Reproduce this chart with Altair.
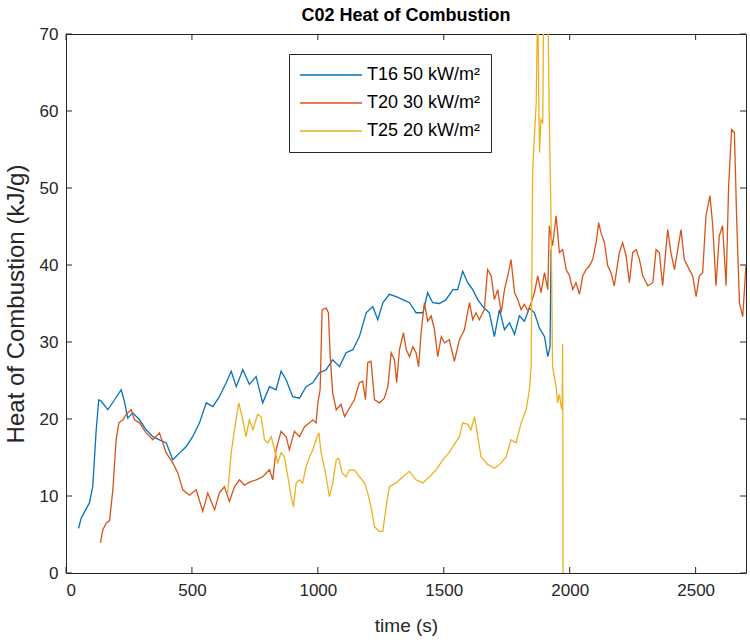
import altair as alt
import pandas as pd

# ---- data ----
t16_t = [50, 60, 93, 106, 120, 130, 140, 166, 193, 219, 232, 245, 265, 292, 318, 345, 371, 398, 424, 451,
         477, 503, 530, 557, 583, 609, 636, 656, 676, 702, 728, 755, 781, 808, 834, 854, 874, 900, 927, 953,
         980, 1006, 1033, 1059, 1086, 1112, 1139, 1165, 1192, 1218, 1238, 1258, 1284, 1311, 1337, 1364, 1390,
         1417, 1436, 1456, 1483, 1509, 1536, 1555, 1575, 1595, 1615, 1635, 1655, 1681, 1701, 1721, 1741, 1761,
         1781, 1800, 1820, 1840, 1860, 1880, 1900, 1913, 1922, 1926]
t16_v = [5.8, 7.1, 9.1, 11.2, 18.6, 22.5, 22.3, 21.2, 22.5, 23.8, 22.3, 20.1, 20.8, 19.9, 18.6, 17.7, 17.3, 16.9,
         14.7, 15.6, 16.4, 17.7, 19.5, 22.1, 21.6, 22.9, 24.7, 26.2, 24.2, 26.4, 24.5, 25.5, 22.1, 24.2, 23.8,
         26.2, 25.1, 22.9, 22.7, 24.2, 24.7, 26.0, 26.4, 27.7, 26.8, 28.6, 29.0, 30.7, 33.8, 34.6, 32.9, 35.1,
         36.2, 35.9, 35.5, 35.1, 33.8, 33.8, 36.4, 35.1, 35.0, 35.5, 36.8, 36.8, 39.2, 37.7, 36.8, 35.5, 34.6,
         33.8, 30.7, 34.2, 31.6, 32.5, 31.0, 33.4, 32.7, 34.4, 33.8, 31.8, 30.7, 28.1, 29.4, 42.0]

t20_t = [137, 146, 160, 173, 186, 199, 210, 226, 239, 259, 272, 292, 318, 345, 371, 398, 424, 444, 464, 490,
         517, 543, 563, 590, 609, 629, 649, 669, 689, 709, 728, 755, 781, 808, 821, 834, 854, 874, 887, 907,
         927, 947, 967, 980, 993, 1000, 1009, 1017, 1033, 1042, 1049, 1059, 1073, 1092, 1106, 1125, 1145, 1165,
         1178, 1189, 1198, 1211, 1225, 1245, 1264, 1278, 1291, 1304, 1313, 1324, 1340, 1351, 1364, 1377, 1390,
         1400, 1410, 1423, 1436, 1450, 1463, 1476, 1490, 1503, 1522, 1542, 1562, 1582, 1602, 1615, 1628, 1641,
         1661, 1674, 1688, 1701, 1714, 1728, 1741, 1754, 1767, 1781, 1794, 1807, 1820, 1834, 1847, 1860, 1873,
         1886, 1900, 1913, 1919, 1932, 1946, 1959, 1972, 1986, 1999, 2012, 2025, 2039, 2052, 2065, 2078, 2091,
         2105, 2115, 2124, 2138, 2151, 2164, 2177, 2197, 2210, 2224, 2237, 2250, 2264, 2277, 2290, 2310, 2330,
         2343, 2356, 2369, 2389, 2402, 2416, 2442, 2455, 2475, 2488, 2502, 2515, 2528, 2541, 2557, 2568, 2581,
         2594, 2607, 2621, 2631, 2643, 2654, 2663, 2674, 2687, 2700]
t20_v = [3.9, 5.6, 6.5, 6.8, 10.8, 17.3, 19.5, 19.9, 20.6, 21.2, 19.9, 19.5, 18.2, 17.3, 18.2, 15.6, 14.3, 13.0,
         10.8, 10.1, 10.8, 8.0, 10.4, 8.2, 10.4, 11.2, 9.3, 11.2, 12.1, 11.4, 11.8, 12.1, 12.5, 13.4, 12.1, 16.0,
         18.4, 17.7, 16.0, 18.4, 17.7, 19.0, 19.5, 19.9, 19.5, 22.1, 23.8, 34.2, 34.4, 33.8, 28.1, 23.4, 21.2,
         21.9, 20.3, 21.4, 22.5, 24.7, 24.9, 22.5, 27.3, 27.5, 22.5, 22.1, 22.7, 24.2, 28.6, 27.7, 24.7, 29.0,
         31.2, 29.0, 28.1, 29.4, 28.6, 26.8, 31.2, 35.1, 32.7, 33.4, 31.6, 28.1, 30.7, 29.9, 30.3, 27.5, 30.3,
         31.6, 35.1, 32.9, 33.8, 32.9, 34.2, 39.4, 38.6, 35.5, 36.8, 33.8, 36.8, 38.6, 40.7, 36.4, 35.5, 34.2,
         34.9, 34.0, 35.1, 36.4, 38.6, 36.4, 39.0, 36.8, 45.1, 42.5, 46.4, 41.6, 42.0, 39.4, 38.6, 36.8, 37.7,
         36.2, 38.6, 39.4, 39.9, 40.7, 42.9, 45.5, 44.2, 42.9, 39.9, 39.0, 37.3, 41.6, 42.9, 41.2, 37.7, 41.6,
         42.0, 40.7, 38.6, 37.3, 37.7, 42.0, 41.6, 37.3, 44.6, 41.6, 39.4, 44.6, 40.7, 39.4, 38.6, 35.9, 38.6,
         39.0, 46.4, 49.0, 45.1, 37.3, 43.8, 45.1, 37.3, 50.3, 57.6, 57.2, 45.9, 35.1, 33.3, 40.0]

t25_t = [642, 656, 669, 686, 699, 715, 728, 742, 761, 775, 788, 801, 815, 828, 841, 854, 867, 881, 894, 903,
         914, 927, 940, 953, 967, 980, 993, 1004, 1013, 1022, 1033, 1046, 1059, 1073, 1083, 1096, 1112, 1125,
         1145, 1165, 1185, 1198, 1211, 1225, 1245, 1258, 1271, 1284, 1311, 1337, 1364, 1390, 1417, 1443, 1470,
         1496, 1520, 1536, 1562, 1575, 1595, 1608, 1622, 1635, 1648, 1674, 1701, 1728, 1748, 1767, 1787, 1807,
         1827, 1840, 1847, 1853, 1867, 1873, 1877, 1880, 1886, 1893, 1897, 1905, 1913, 1919, 1926, 1932, 1946,
         1952, 1959, 1966, 1970, 1972, 1974]
t25_v = [10.4, 15.6, 18.6, 22.1, 20.3, 17.7, 19.9, 18.6, 20.6, 20.3, 17.3, 16.9, 17.7, 16.0, 14.3, 15.6, 15.1,
         12.5, 9.9, 8.6, 11.7, 12.1, 11.7, 13.8, 15.1, 16.0, 17.3, 18.2, 15.6, 14.3, 12.5, 9.9, 11.7, 14.7, 14.9,
         13.0, 12.5, 13.4, 13.4, 12.5, 11.7, 10.4, 8.6, 6.0, 5.4, 5.4, 8.6, 11.2, 11.7, 12.5, 13.2, 12.1, 11.7,
         12.5, 13.4, 14.7, 15.6, 16.4, 17.7, 19.5, 19.3, 18.6, 20.3, 17.7, 15.1, 14.1, 13.6, 14.3, 15.1, 17.3,
         16.9, 19.5, 21.2, 23.8, 26.8, 52.4, 61.1, 75.0, 62.0, 54.6, 58.9, 58.5, 75.0, 78.0, 75.0, 58.9, 45.9,
         26.8, 24.2, 22.1, 23.2, 21.6, 21.2, 29.7, -5.0]

series_labels = ["T16 50 kW/m²", "T20 30 kW/m²", "T25 20 kW/m²"]
series_colors = ["#0072BD", "#D95319", "#EDB120"]
x_ticks = [0, 500, 1000, 1500, 2000, 2500]
y_ticks = [0, 10, 20, 30, 40, 50, 60, 70]

rows = []
for lab, ts, vs in zip(series_labels, [t16_t, t20_t, t25_t], [t16_v, t20_v, t25_v]):
    for i, (a, b) in enumerate(zip(ts, vs)):
        rows.append({"series": lab, "time": a, "hoc": b, "idx": i})
df = pd.DataFrame(rows)

W, H = 680, 539
FONT = "Liberation Sans"
INK = "#262626"

xscale = alt.Scale(domain=[0, 2700], nice=False, zero=False)
yscale = alt.Scale(domain=[0, 70], nice=False, zero=False)

x_axis = alt.Axis(values=x_ticks, title="time (s)", grid=False, domain=False, ticks=False,
                  labelPadding=9, titlePadding=18, format="d", titleFontSize=19)
y_axis = alt.Axis(values=y_ticks, title="Heat of Combustion (kJ/g)", grid=False, domain=False,
                  ticks=False, labelPadding=8, titlePadding=11, titleFontSize=24)

lines = alt.Chart(df).mark_line(strokeWidth=1.3, clip=True).encode(
    x=alt.X("time:Q", scale=xscale, axis=x_axis),
    y=alt.Y("hoc:Q", scale=yscale, axis=y_axis),
    color=alt.Color("series:N", scale=alt.Scale(domain=series_labels, range=series_colors),
                    legend=alt.Legend(title=None, orient="none", legendX=223, legendY=20,
                                      symbolType="stroke", symbolSize=3844, symbolStrokeWidth=1.5,
                                      clipHeight=22, rowPadding=6, symbolOffset=0,
                                      labelFontSize=18, labelFont=FONT, labelColor="black",
                                      strokeColor=INK, fillColor="white", padding=10,
                                      labelLimit=400)),
    order="idx:Q",
)

xt = pd.DataFrame({"time": x_ticks})
yt = pd.DataFrame({"hoc": y_ticks})

xt_bottom = alt.Chart(xt).mark_rule(color=INK, strokeWidth=1).encode(
    x=alt.X("time:Q", scale=xscale, axis=x_axis), y=alt.value(H), y2=alt.value(H - 6))
xt_top = alt.Chart(xt).mark_rule(color=INK, strokeWidth=1).encode(
    x=alt.X("time:Q", scale=xscale, axis=x_axis), y=alt.value(0), y2=alt.value(6))
yt_left = alt.Chart(yt).mark_rule(color=INK, strokeWidth=1).encode(
    y=alt.Y("hoc:Q", scale=yscale, axis=y_axis), x=alt.value(0), x2=alt.value(6))
yt_right = alt.Chart(yt).mark_rule(color=INK, strokeWidth=1).encode(
    y=alt.Y("hoc:Q", scale=yscale, axis=y_axis), x=alt.value(W), x2=alt.value(W - 6))

chart = alt.layer(lines, xt_bottom, xt_top, yt_left, yt_right).properties(
    width=W, height=H,
    title=alt.Title("C02 Heat of Combustion", font=FONT, fontSize=18, fontWeight="bold",
                    color="black", anchor="middle", offset=0),
    autosize=alt.AutoSizeParams(type="none"),
    padding={"left": 66, "top": 34, "right": 4, "bottom": 69},
).configure(background="white").configure_view(
    stroke=INK, strokeWidth=1
).configure_axis(
    labelFont=FONT, titleFont=FONT, labelFontSize=17, titleFontWeight="normal",
    labelColor=INK, titleColor=INK,
)

chart.save("out.html", embed_options={"renderer": "svg", "actions": False})
